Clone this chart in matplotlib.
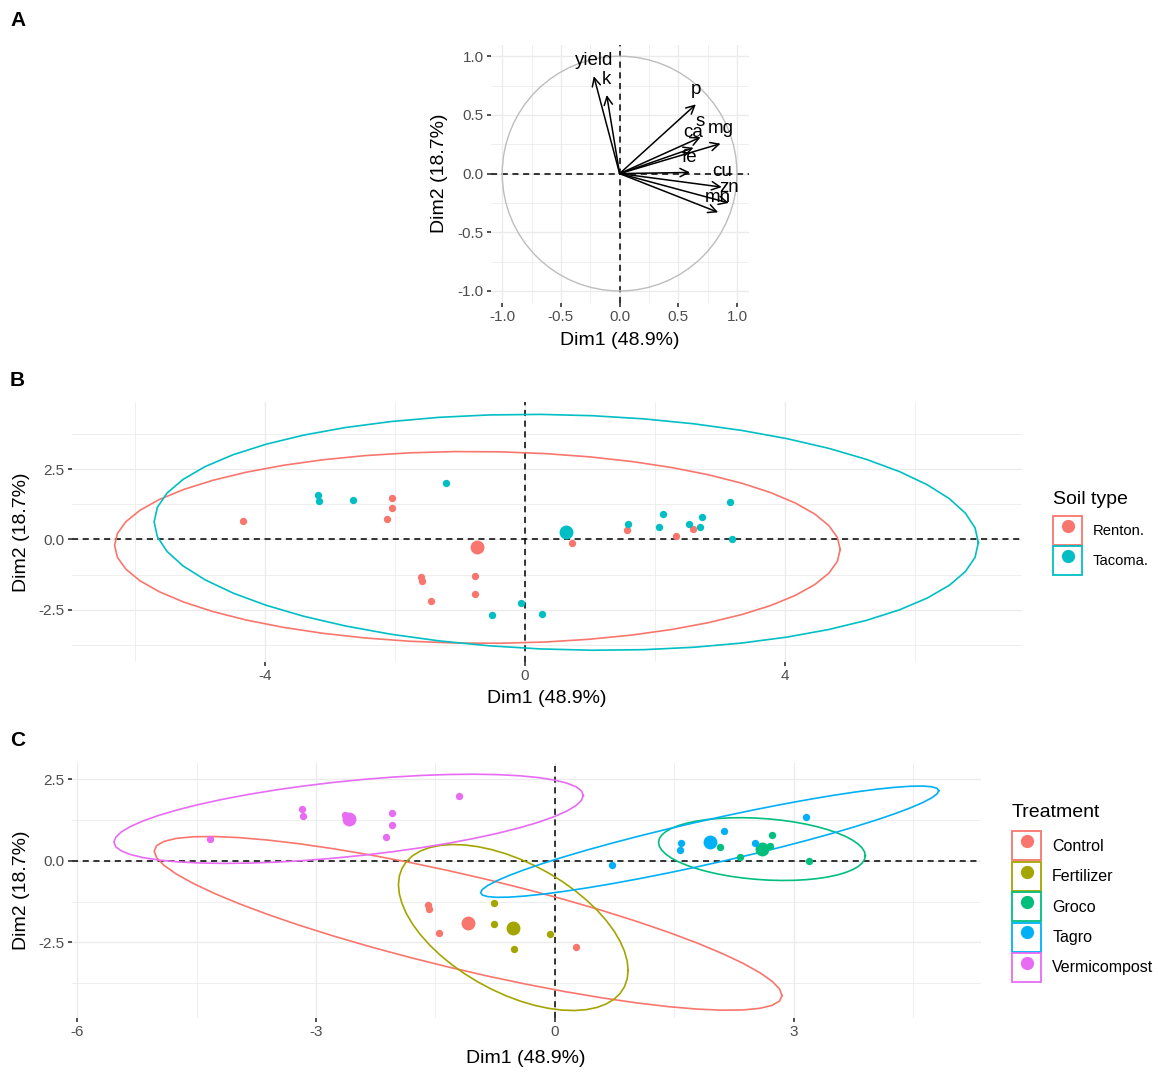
import numpy as np
import matplotlib
matplotlib.use("Agg")
import matplotlib.pyplot as plt
from matplotlib.lines import Line2D
from matplotlib.patches import Rectangle, Circle

plt.rcParams["font.family"] = ["Liberation Sans", "DejaVu Sans"]
plt.rcParams["axes.unicode_minus"] = False

# ---------------------------------------------------------------------------
# Panel A: variable coordinates (correlation circle)
# ---------------------------------------------------------------------------
var_names = ["yield", "k", "p", "s", "ca", "mg", "fe", "cu", "zn", "mn"]
var_dim1 = [-0.22, -0.11, 0.65, 0.69, 0.63, 0.86, 0.60, 0.87, 0.93, 0.84]
var_dim2 = [0.83, 0.67, 0.59, 0.31, 0.22, 0.255, 0.01, -0.115, -0.25, -0.33]

# ---------------------------------------------------------------------------
# Panels B and C: individuals on Dim1 / Dim2
# ---------------------------------------------------------------------------
dim1 = np.array([
    -4.33, -2.05, -2.04, -2.12, -3.18, -3.16, -2.64, -1.21,   # Vermicompost
    -1.59, -1.58, -1.45, 0.26,                                # Control
    -0.76, -0.76, -0.06, -0.51,                               # Fertilizer
    0.72, 1.57, 1.59, 2.12, 2.52, 3.15,                       # Tagro
    2.33, 2.59, 2.07, 2.73, 2.70, 3.19,                       # Groco
])
dim2 = np.array([
    0.67, 1.46, 1.11, 0.72, 1.59, 1.36, 1.40, 2.00,
    -1.35, -1.48, -2.20, -2.64,
    -1.30, -1.95, -2.24, -2.69,
    -0.14, 0.32, 0.54, 0.91, 0.56, 1.33,
    0.11, 0.36, 0.43, 0.80, 0.46, 0.00,
])
soil = np.array(
    ["Renton."] * 4 + ["Tacoma."] * 4
    + ["Renton."] * 3 + ["Tacoma."]
    + ["Renton."] * 2 + ["Tacoma."] * 2
    + ["Renton."] * 2 + ["Tacoma."] * 4
    + ["Renton."] * 2 + ["Tacoma."] * 4
)
treatment = np.array(
    ["Vermicompost"] * 8 + ["Control"] * 4 + ["Fertilizer"] * 4
    + ["Tagro"] * 6 + ["Groco"] * 6
)

soil_levels = ["Renton.", "Tacoma."]
soil_colors = ["#F8766D", "#00BFC4"]
treat_levels = ["Control", "Fertilizer", "Groco", "Tagro", "Vermicompost"]
treat_colors = ["#F8766D", "#A3A500", "#00BF7D", "#00B0F6", "#E76BF3"]

W, H = 1158, 1074
GRID = "#EBEBEB"
DASH = (0, (4, 3))


def frac(left, top, right, bottom):
    return [left / W, 1 - bottom / H, (right - left) / W, (bottom - top) / H]


def norm_ellipse(x, y, level=0.95, segments=51):
    """Same recipe as ggplot2 stat_ellipse(type = 'norm')."""
    pts = np.column_stack([x, y])
    dfd = len(pts) - 1
    center = pts.mean(axis=0)
    shape = np.cov(pts, rowvar=False)
    # 2 * qf(level, 2, dfd) has a closed form
    radius = np.sqrt(dfd * ((1 - level) ** (-2 / dfd) - 1))
    theta = np.linspace(0, 2 * np.pi, segments)
    circle = np.column_stack([np.cos(theta), np.sin(theta)])
    chol = np.linalg.cholesky(shape).T
    return center + radius * circle @ chol


def style(ax, xmajor, ymajor, xminor, yminor):
    for sp in ax.spines.values():
        sp.set_visible(False)
    ax.set_xticks(xmajor)
    ax.set_yticks(ymajor)
    ax.set_xticks(xminor, minor=True)
    ax.set_yticks(yminor, minor=True)
    ax.grid(True, which="major", color=GRID, lw=1.0)
    ax.grid(True, which="minor", color=GRID, lw=0.6)
    ax.set_axisbelow(True)
    ax.tick_params(which="major", length=3, width=1.2, color="#333333",
                   labelsize=11, labelcolor="#4D4D4D", pad=2)
    ax.tick_params(which="minor", length=0)
    ax.axhline(0, color="black", ls=DASH, lw=1.1, zorder=1.5)
    ax.axvline(0, color="black", ls=DASH, lw=1.1, zorder=1.5)


def labels(ax, xl_y, yl_x):
    ax.set_xlabel("Dim1 (48.9%)", fontsize=14)
    ax.set_ylabel("Dim2 (18.7%)", fontsize=14)
    ax.xaxis.set_label_coords(0.5, xl_y)
    ax.yaxis.set_label_coords(yl_x, 0.5)
    ax.xaxis.label.set_va("center")
    ax.yaxis.label.set_va("center")


def group_legend(ax, levels, colors, title, left, top, fontsize, hh, title_gap):
    handles = [
        (Rectangle((0, 0), 1, 1, facecolor="white", edgecolor=c, lw=1.3),
         Line2D([], [], ls="", marker="o", ms=8.5, color=c))
        for c in colors
    ]
    hl = 29 / (fontsize * 100 / 72)
    leg = ax.legend(handles, levels, title=title, loc="upper left",
                    bbox_to_anchor=(left / W, 1 - top / H), bbox_transform=fig.transFigure,
                    frameon=False, fontsize=fontsize, title_fontsize=14,
                    handlelength=hl, handleheight=hh, labelspacing=0.1,
                    handletextpad=0.7, borderpad=0, borderaxespad=0, alignment="left")
    # a bit more room between the title and the keys, like ggplot
    leg._legend_box.sep = title_gap
    return leg


fig = plt.figure(figsize=(W / 100, H / 100), dpi=100)

# --- A: correlation circle ---
axA = fig.add_axes(frac(490.5, 44.5, 748.7, 302.7))
axA.set_xlim(-1.1, 1.1)
axA.set_ylim(-1.1, 1.1)
style(axA, [-1, -0.5, 0, 0.5, 1], [-1, -0.5, 0, 0.5, 1],
      [-0.75, -0.25, 0.25, 0.75], [-0.75, -0.25, 0.25, 0.75])
axA.set_xticklabels(["-1.0", "-0.5", "0.0", "0.5", "1.0"])
axA.set_yticklabels(["-1.0", "-0.5", "0.0", "0.5", "1.0"])
axA.add_patch(Circle((0, 0), 1, fill=False, ec="#BDBDBD", lw=1.0, zorder=2))
for name, x, y in zip(var_names, var_dim1, var_dim2):
    axA.annotate("", xy=(x, y), xytext=(0, 0),
                 arrowprops=dict(arrowstyle="->", color="black", lw=1.1,
                                 shrinkA=0, shrinkB=0, mutation_scale=15),
                 zorder=3)
    axA.annotate(name, xy=(x, y), xytext=(0, 11), textcoords="offset points",
                 ha="center", va="center", fontsize=13.5, zorder=4)
labels(axA, -0.145, -0.196)

# --- B: individuals by soil type ---
axB = fig.add_axes(frac(71.7, 402, 1022, 662))
axB.set_xlim(-6.97, 7.65)
axB.set_ylim(-4.35, 4.88)
style(axB, [-4, 0, 4], [-2.5, 0, 2.5], [-6, -2, 2, 6], [-3.75, -1.25, 1.25, 3.75])
for lev, col in zip(soil_levels, soil_colors):
    m = soil == lev
    e = norm_ellipse(dim1[m], dim2[m])
    axB.plot(e[:, 0], e[:, 1], color=col, lw=1.2, zorder=2.5)
    axB.scatter(dim1[m], dim2[m], s=28, color=col, lw=0, zorder=3)
    axB.scatter(dim1[m].mean(), dim2[m].mean(), s=100, color=col, lw=0, zorder=3)
labels(axB, -0.142, -0.0523)
group_legend(axB, soil_levels, soil_colors, "Soil type", 1053, 491, 10.6, 2.6, 6)

# --- C: individuals by treatment ---
axC = fig.add_axes(frac(71.7, 763, 980.7, 1018))
axC.set_xlim(-6.07, 5.35)
axC.set_ylim(-4.82, 3.0)
style(axC, [-6, -3, 0, 3], [-2.5, 0, 2.5], [-4.5, -1.5, 1.5, 4.5], [-3.75, -1.25, 1.25])
for lev, col in zip(treat_levels, treat_colors):
    m = treatment == lev
    e = norm_ellipse(dim1[m], dim2[m])
    axC.plot(e[:, 0], e[:, 1], color=col, lw=1.2, zorder=2.5)
    axC.scatter(dim1[m], dim2[m], s=28, color=col, lw=0, zorder=3)
    axC.scatter(dim1[m].mean(), dim2[m].mean(), s=100, color=col, lw=0, zorder=3)
labels(axC, -0.157, -0.055)
group_legend(axC, treat_levels, treat_colors, "Treatment", 1012, 804, 11.5, 2.4, 7.5)

for letter, y in [("A", 20), ("B", 381), ("C", 741)]:
    fig.text(10 / W, 1 - y / H, letter, fontsize=15, fontweight="bold", va="center")

fig.savefig("out.png", dpi=100)
